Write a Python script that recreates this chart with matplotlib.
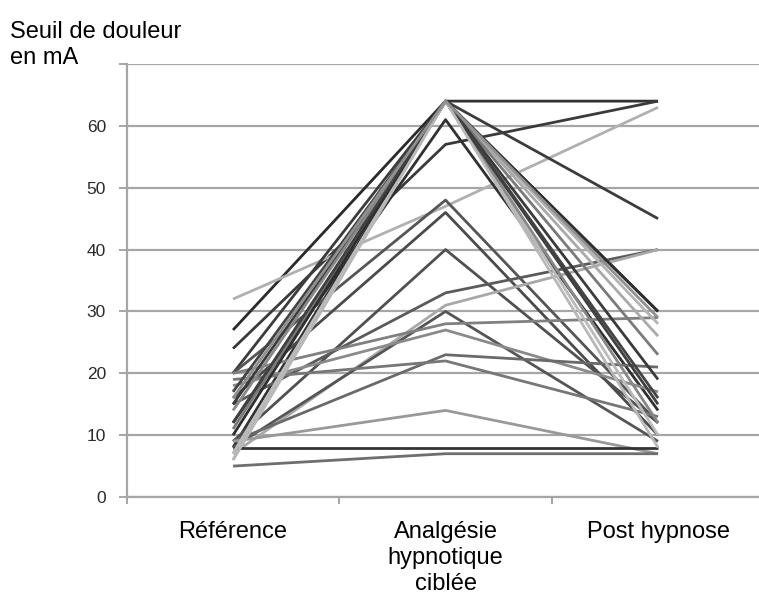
import matplotlib.pyplot as plt

plt.rcParams['font.family'] = ['Liberation Sans', 'DejaVu Sans']

phases = ['Référence', 'Analgésie\nhypnotique\nciblée', 'Post hypnose']

# seuil de douleur (mA) par sujet : référence, analgésie, post hypnose
reference = [8, 27, 24, 32, 20, 12, 20, 16, 9, 15, 7, 8, 20, 18, 9,
             19, 9, 8, 5, 7, 6, 11, 15, 17, 7, 10, 14, 12, 6, 16]
analgesie = [64, 64, 57, 47, 64, 61, 48, 46, 40, 33, 31, 30, 28, 27, 23,
             22, 14, 8, 7, 64, 64, 64, 64, 64, 64, 64, 64, 64, 64, 64]
post = [64, 30, 64, 63, 45, 14, 12, 10, 12, 40, 40, 9, 29, 17, 21,
        13, 7, 8, 7, 28, 26, 23, 19, 16, 10, 30, 12, 15, 8, 29]
greys = ['#333333', '#2a2a2a', '#3a3a3a', '#b0b0b0', '#3c3c3c', '#303030',
         '#555555', '#4a4a4a', '#505050', '#5a5a5a', '#a8a8a8', '#555555',
         '#808080', '#8a8a8a', '#6a6a6a', '#777777', '#999999', '#333333',
         '#6e6e6e', '#b4b4b4', '#aaaaaa', '#7a7a7a', '#3a3a3a', '#444444',
         '#bbbbbb', '#2f2f2f', '#888888', '#404040', '#b8b8b8', '#909090']

fig = plt.figure(figsize=(7.59, 6.01), dpi=100)
ax = fig.add_axes([0.167, 0.173, 0.84, 0.7205])

x = [1, 2, 3]
for r, a, p, c in zip(reference, analgesie, post, greys):
    ax.plot(x, [r, a, p], color=c, lw=2, solid_capstyle='butt', zorder=3)

ax.set_xlim(0.5, 3.5)
ax.set_ylim(0, 70)
ax.set_yticks(range(0, 80, 10))
ax.set_yticklabels([str(v) for v in range(0, 70, 10)] + [''])
ax.yaxis.grid(True, color='#a6a6a6', lw=1.6)
ax.set_axisbelow(True)

ax.set_xticks(x)
ax.set_xticklabels(phases, fontsize=17, linespacing=1.24, va='top')
ax.set_xticks([0.5, 1.5, 2.5], minor=True)
ax.tick_params(axis='x', which='major', length=0, pad=17)
ax.tick_params(axis='x', which='minor', length=5, color='#a6a6a6', width=1.4)
ax.tick_params(axis='y', length=6, color='#a6a6a6', width=1.4, labelsize=12.5,
               labelcolor='#2a2a2a', pad=9)

for s in ['top', 'right']:
    ax.spines[s].set_visible(False)
for s in ['left', 'bottom']:
    ax.spines[s].set_color('#a6a6a6')
    ax.spines[s].set_linewidth(1.6)

fig.text(0.013, 0.965, 'Seuil de douleur\nen mA', fontsize=17,
         va='top', ha='left', linespacing=1.24)

fig.savefig('out.png', dpi=100)
